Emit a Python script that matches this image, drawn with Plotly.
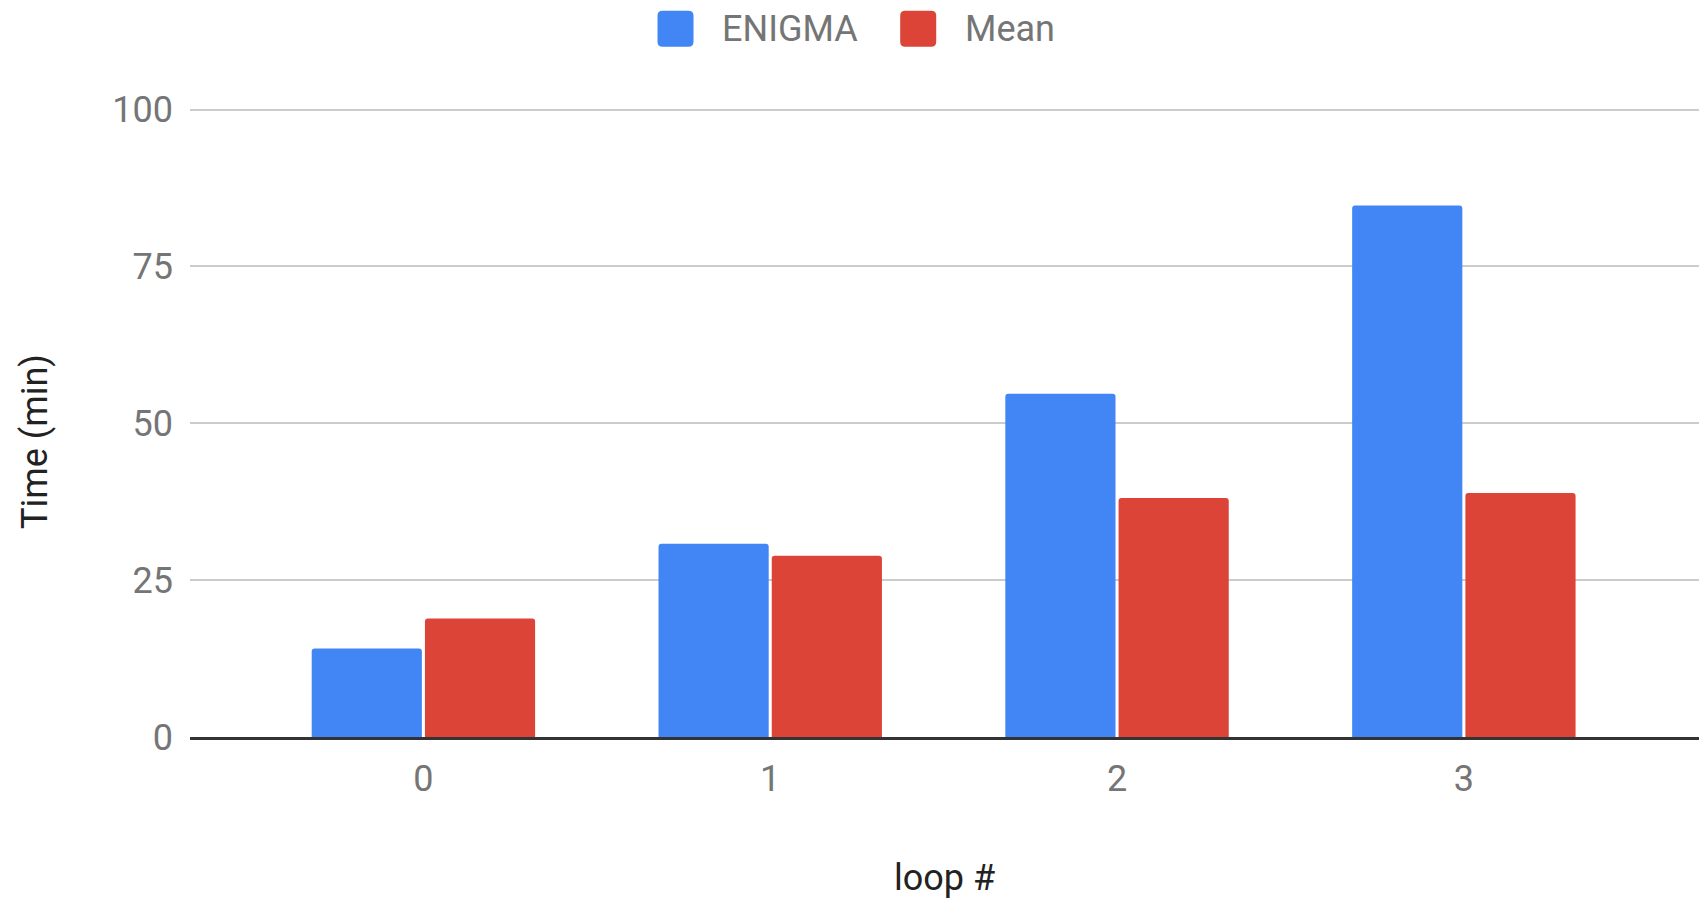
import plotly.graph_objects as go

# Data
loops = [0, 1, 2, 3]
loop_labels = ["0", "1", "2", "3"]
enigma_times = [14.1, 30.8, 54.7, 84.7]
mean_times = [18.9, 28.9, 38.1, 38.9]
y_ticks = [0, 25, 50, 75, 100]

BLUE = "#4285F4"
RED = "#DB4437"
FONT = "Roboto"

W, H = 1699, 898
M_L, M_R, M_T, M_B = 190, 0, 107, 161
plot_w = W - M_L - M_R
plot_h = H - M_T - M_B
Y_MAX = 100.4  # a little headroom so the 100 gridline is drawn

fig = go.Figure()
fig.add_trace(go.Bar(x=loops, y=enigma_times, name="ENIGMA",
                     marker=dict(color=BLUE, line=dict(width=0), cornerradius=3)))
fig.add_trace(go.Bar(x=loops, y=mean_times, name="Mean",
                     marker=dict(color=RED, line=dict(width=0), cornerradius=3)))


def px_x(px):
    return (px - M_L) / plot_w


def px_y(py):
    return (H - M_B - py) / plot_h


# Legend drawn as rounded squares plus labels
def rounded_square(size, r):
    h = size / 2
    return (f"M{-h + r},{-h} L{h - r},{-h} Q{h},{-h} {h},{-h + r} "
            f"L{h},{h - r} Q{h},{h} {h - r},{h} L{-h + r},{h} "
            f"Q{-h},{h} {-h},{h - r} L{-h},{-h + r} Q{-h},{-h} {-h + r},{-h} Z")


shapes = []
annotations = []
legend_items = [("ENIGMA", BLUE, 675.5, 719.5), ("Mean", RED, 918.2, 963)]
for label, color, cx, tx in legend_items:
    shapes.append(dict(type="path", xref="paper", yref="paper",
                       xsizemode="pixel", ysizemode="pixel",
                       xanchor=px_x(cx), yanchor=px_y(28.7),
                       path=rounded_square(36, 5),
                       fillcolor=color, line=dict(width=0)))
    annotations.append(dict(text=label, xref="paper", yref="paper",
                            x=px_x(tx), y=px_y(29), xanchor="left", yanchor="middle",
                            showarrow=False,
                            font=dict(family=FONT, size=36, color="#757575")))

# Axis titles
annotations.append(dict(text="Time (min)", xref="paper", yref="paper",
                        x=px_x(35), y=px_y(442), xanchor="center", yanchor="middle",
                        textangle=-90, showarrow=False,
                        font=dict(family=FONT, size=36, color="#222222")))
annotations.append(dict(text="loop #", xref="paper", yref="paper",
                        x=px_x(944), y=px_y(878), xanchor="center", yanchor="middle",
                        showarrow=False,
                        font=dict(family=FONT, size=36, color="#222222")))

fig.update_layout(
    width=W, height=H,
    margin=dict(l=M_L, r=M_R, t=M_T, b=M_B, pad=0),
    paper_bgcolor="white", plot_bgcolor="white",
    barmode="group", bargap=0.347, bargroupgap=0.027,
    showlegend=False,
    font=dict(family=FONT, size=36, color="#757575"),
    shapes=shapes, annotations=annotations,
)
fig.update_xaxes(
    range=[-0.673, 3.678], tickvals=loops, ticktext=loop_labels,
    showgrid=False, zeroline=False,
    showline=True, linecolor="#333333", linewidth=2.5, layer="above traces",
    ticks="", ticklabelstandoff=8,
    tickfont=dict(family=FONT, size=36, color="#757575"),
)
fig.update_yaxes(
    range=[0, Y_MAX], tickvals=y_ticks,
    showgrid=True, gridcolor="#cccccc", gridwidth=1.6,
    zeroline=False, showline=False, ticks="", ticklabelstandoff=16,
    tickfont=dict(family=FONT, size=36, color="#757575"),
)

fig.write_html("out.html")
